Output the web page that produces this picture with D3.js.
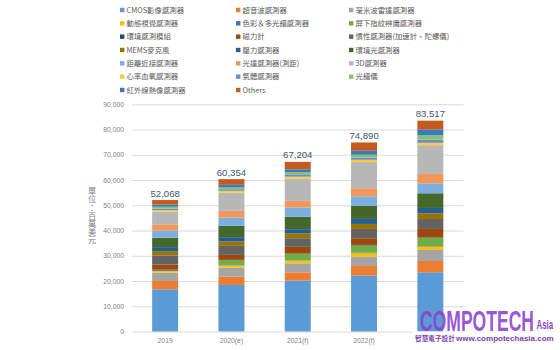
<!DOCTYPE html>
<html>
<head>
<meta charset="utf-8">
<script src="https://cdn.jsdelivr.net/npm/d3@7"></script>
<style>
  html, body { margin: 0; padding: 0; background: #ffffff; }
  svg { display: block; }
</style>
</head>
<body>
<svg id="chart" width="560" height="350"></svg>
<script>
// Years on the x axis and the stated market totals (US$ millions)
const years = ["2019", "2020(e)", "2021(f)", "2022(f)", "2023(f)"];
const totals = [52068, 60354, 67204, 74890, 83517];

// Sensor categories, stacked from the bottom of each bar upward
const sensorNames = [
  "CMOS影像感測器", "超音波感測器", "毫米波雷達感測器",
  "動態視覺感測器", "色彩＆多光譜感測器", "屏下指紋辨識感測器",
  "環境感測模組", "磁力計", "慣性感測器(加速計、陀螺儀)",
  "MEMS麥克風", "壓力感測器", "環境光感測器",
  "距離近接感測器", "光達感測器(測距)", "3D感測器",
  "心率血氧感測器", "氣體感測器", "光譜儀",
  "紅外線熱像感測器", "Others"
];
const sensorColors = [
  "#5b9bd5", "#ed7d31", "#a5a5a5",
  "#ffc000", "#4472c4", "#70ad47",
  "#264478", "#9e480e", "#636363",
  "#997300", "#255e91", "#43682b",
  "#7cafdd", "#f1975a", "#b7b7b7",
  "#ffcd33", "#698ed0", "#8cc168",
  "#327dc2", "#c65a1e"
];

// Revenue per category and year (US$ millions)
const cmosImage     = [16710, 18430, 20145, 22130, 23450];
const ultrasonic    = [3300, 3300, 3300, 3830, 4490];
const mmWaveRadar   = [3300, 3570, 3570, 3700, 4360];
const dynamicVision = [660, 790, 1060, 1320, 1320];
const colorSpectral = [300, 150, 150, 200, 200];
const underDisplayFp= [0, 1980, 2510, 2910, 3300];
const envModule     = [300, 150, 150, 200, 200];
const magnetometer  = [1980, 1980, 2640, 2640, 3300];
const inertial      = [3570, 3570, 3430, 3700, 3960];
const memsMic       = [1720, 1720, 1850, 1980, 2250];
const pressure      = [1590, 1720, 1720, 1980, 2110];
const ambientLight  = [3700, 4490, 4890, 5280, 5810];
const proximity     = [2900, 3300, 3700, 3700, 3960];
const lidar         = [2380, 2640, 2640, 3170, 3700];
const sensing3d     = [5150, 7270, 8800, 10360, 11400];
const heartRateSpO2 = [530, 660, 790, 920, 920];
const gas           = [530, 660, 920, 920, 1320];
const spectrometer  = [790, 660, 920, 1060, 1720];
const thermalIR     = [920, 1060, 1060, 1590, 2250];
const others        = [1738, 2254, 2959, 3300, 3497];

const seriesValues = [
  cmosImage, ultrasonic, mmWaveRadar, dynamicVision, colorSpectral,
  underDisplayFp, envModule, magnetometer, inertial, memsMic,
  pressure, ambientLight, proximity, lidar, sensing3d,
  heartRateSpO2, gas, spectrometer, thermalIR, others
];

const yTicks = d3.range(0, 90001, 10000);
const unitTitle = "單位：百萬美元";

// Build the table for d3.stack: one row per year, one column per sensor
const table = years.map((yr, i) => {
  const row = { year: yr };
  sensorNames.forEach((name, s) => { row[name] = seriesValues[s][i]; });
  return row;
});
const stacked = d3.stack().keys(sensorNames)(table);

const svg = d3.select("#chart");
const cjk = "'Noto Sans CJK TC', 'Noto Sans CJK SC', 'Liberation Sans', sans-serif";
const latin = "'Liberation Sans', Arial, sans-serif";
const narrow = "'Liberation Sans Narrow', 'Liberation Sans', sans-serif";

const x = d3.scaleBand().domain(years).range([132, 463.5])
  .paddingInner(0.608).paddingOuter(0.304);
const y = d3.scaleLinear().domain([0, 90000]).range([331.5, 104.3]);
const color = d3.scaleOrdinal().domain(sensorNames).range(sensorColors);

// Horizontal gridlines and value labels
const yAxis = d3.axisLeft(y).tickValues(yTicks)
  .tickSize(-(463.5 - 132)).tickPadding(8)
  .tickFormat(d => d === 0 ? "0" : d3.format(",")(d));
const gy = svg.append("g").attr("transform", "translate(132,0)").call(yAxis);
gy.select(".domain").remove();
gy.selectAll(".tick line").attr("stroke", "#d9d9d9").attr("stroke-width", 1);
gy.selectAll(".tick text")
  .attr("fill", "#7f7f7f").style("font-family", latin).style("font-size", "6.8px");

// Category labels under the bars (the last one sits beneath the publisher mark)
const xAxis = d3.axisBottom(x).tickSize(0).tickPadding(7);
const gx = svg.append("g").attr("transform", "translate(0,331.5)").call(xAxis);
gx.select(".domain").remove();
gx.selectAll(".tick text")
  .attr("fill", "#7f7f7f").style("font-family", latin).style("font-size", "6.8px");
gx.selectAll(".tick").filter(d => d === years[years.length - 1]).select("text").remove();

// Stacked bars
svg.append("g").selectAll("g")
  .data(stacked)
  .join("g")
    .attr("fill", d => color(d.key))
  .selectAll("rect")
  .data(d => d)
  .join("rect")
    .attr("x", d => x(d.data.year))
    .attr("width", x.bandwidth())
    .attr("y", d => y(d[1]))
    .attr("height", d => Math.max(0, y(d[0]) - y(d[1])));

// Totals above each bar
svg.append("g").selectAll("text")
  .data(years)
  .join("text")
    .attr("x", d => x(d) + x.bandwidth() / 2)
    .attr("y", (d, i) => y(totals[i]) - 3.5)
    .attr("text-anchor", "middle")
    .attr("fill", "#44546a")
    .style("font-family", latin)
    .style("font-size", "9.6px")
    .text((d, i) => d3.format(",")(totals[i]));

// Vertical unit title with upright characters
svg.append("text")
  .attr("x", 92).attr("y", 187)
  .style("writing-mode", "vertical-rl")
  .style("text-orientation", "upright")
  .style("font-family", cjk)
  .style("font-size", "8.2px")
  .attr("fill", "#7f7f7f")
  .text(unitTitle);

// Legend: three columns, filled row by row
const legendCols = [120, 236, 349];
const legend = svg.append("g").selectAll("g")
  .data(sensorNames)
  .join("g")
    .attr("transform", (d, i) => `translate(${legendCols[i % 3]},${10 + Math.floor(i / 3) * 13.33})`);
legend.append("rect")
  .attr("x", 0).attr("y", -2.2).attr("width", 4.4).attr("height", 4.4)
  .attr("fill", d => color(d));
legend.append("text")
  .attr("x", 6.5).attr("y", 2.8)
  .attr("fill", "#595959")
  .style("font-family", cjk)
  .style("font-size", "7.4px")
  .text(d => d);

// Publisher mark in the bottom-right corner; each piece is squeezed
// horizontally to its slot so the condensed look holds with any fallback font
const mark = svg.append("g");
mark.append("rect").attr("x", 412).attr("y", 331.5).attr("width", 148).attr("height", 18.5)
  .attr("fill", "#ffffff");
function fitted(str, left, baseline, width, size, stretchY, family, fill, opacity) {
  const t = mark.append("text")
    .style("font-family", family).style("font-weight", "bold").style("font-size", size + "px")
    .attr("fill", fill).attr("fill-opacity", opacity)
    .text(str);
  const natural = t.node().getComputedTextLength();
  t.attr("transform", `translate(${left},${baseline}) scale(${width / natural},${stretchY})`);
  return t;
}
fitted("COMPOTECH", 420, 330.5, 114, 20, 1.46, narrow, "#8c3fd2", 0.9);
fitted("Asia", 536.5, 329.3, 16.5, 10, 1.25, narrow, "#8c3fd2", 1);
fitted("智慧電子設計", 415, 340.5, 40, 6.8, 1, cjk, "#7e3fb5", 1);
fitted("www.compotechasia.com", 456, 340.5, 98, 8, 1, narrow, "#7e3fb5", 1);
</script>
</body>
</html>
